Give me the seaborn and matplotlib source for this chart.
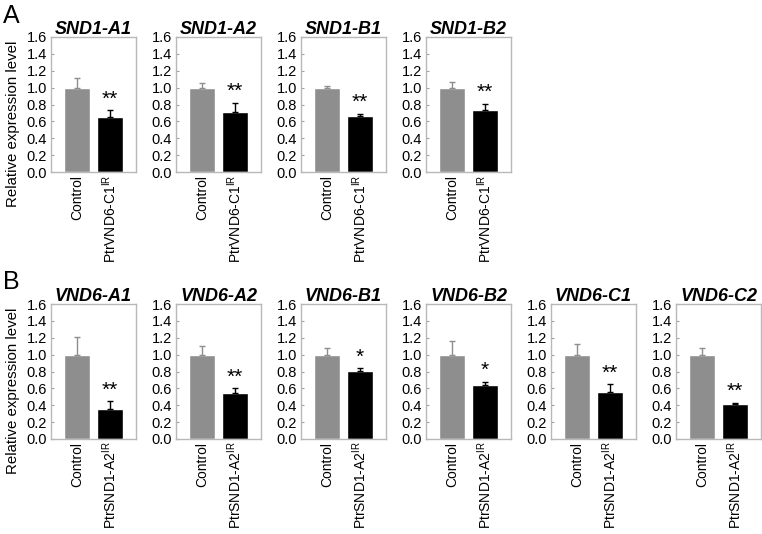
import numpy as np
import pandas as pd
import matplotlib
matplotlib.use("Agg")
import matplotlib.pyplot as plt
import seaborn as sns

# Panel A data
genes_a = ["SND1-A1", "SND1-A2", "SND1-B1", "SND1-B2"]
ctrl_a = [1.0, 1.0, 1.0, 1.0]
ctrl_err_a = [0.11, 0.05, 0.02, 0.07]
trt_a = [0.65, 0.71, 0.66, 0.74]
trt_err_a = [0.08, 0.11, 0.03, 0.07]
sig_a = ["**", "**", "**", "**"]
trt_label_a = r"PtrVND6-C1$^{\mathrm{IR}}$"

# Panel B data
genes_b = ["VND6-A1", "VND6-A2", "VND6-B1", "VND6-B2", "VND6-C1", "VND6-C2"]
ctrl_b = [1.0, 1.0, 1.0, 1.0, 1.0, 1.0]
ctrl_err_b = [0.21, 0.10, 0.08, 0.16, 0.13, 0.08]
trt_b = [0.36, 0.55, 0.81, 0.64, 0.56, 0.41]
trt_err_b = [0.09, 0.05, 0.03, 0.04, 0.09, 0.02]
sig_b = ["**", "**", "*", "*", "**", "**"]
trt_label_b = r"PtrSND1-A2$^{\mathrm{IR}}$"

yticks = [0.0, 0.2, 0.4, 0.6, 0.8, 1.0, 1.2, 1.4, 1.6]

sns.set_style("white")
plt.rcParams['font.family'] = ['Liberation Sans', 'DejaVu Sans']
plt.rcParams['mathtext.fontset'] = 'custom'
plt.rcParams['mathtext.rm'] = 'Liberation Sans'
plt.rcParams['mathtext.it'] = 'Liberation Sans:italic'
plt.rcParams['mathtext.bf'] = 'Liberation Sans:bold'
plt.rcParams['text.color'] = 'black'
plt.rcParams['axes.labelcolor'] = 'black'

fig = plt.figure(figsize=(7.62, 5.34), dpi=100)

W, H = 762, 534
ax_w = 85 / W
step = 125 / W
x0 = 51 / W


def draw_panel(ax, gene, c, ce, t, te, sig, trt_label, show_ylabel):
    df = pd.DataFrame({"group": ["Control", trt_label], "value": [c, t]})
    sns.barplot(data=df, x="group", y="value", hue="group",
                palette=["#8e8e8e", "#000000"], width=0.8,
                legend=False, ax=ax, errorbar=None)
    ax.errorbar([0], [c], yerr=[[0], [ce]], fmt="none", ecolor="#8e8e8e",
                elinewidth=1, capsize=2, capthick=1)
    ax.errorbar([1], [t], yerr=[[0], [te]], fmt="none", ecolor="#000000",
                elinewidth=1, capsize=2, capthick=1)
    ax.text(1, t + te + 0.02, sig, ha="center", va="bottom", fontsize=15)
    ax.set_ylim(0, 1.6)
    ax.set_xlim(-0.8, 1.8)
    ax.set_yticks(yticks)
    ax.set_yticklabels([f"{v:.1f}" for v in yticks])
    ax.tick_params(axis="y", length=2.5, width=0.8, direction="in",
                   color="#a0a0a0", labelcolor="black", left=True,
                   labelsize=10.5, pad=3)
    ax.tick_params(axis="x", length=0, labelsize=10, pad=2, rotation=90,
                   labelcolor="black")
    ax.set_xlabel("")
    if show_ylabel:
        ax.set_ylabel("Relative expression level", fontsize=10.8)
        ax.yaxis.set_label_coords(-0.36, 0.36)
    else:
        ax.set_ylabel("")
    ax.set_title(gene, fontsize=13, fontweight="bold", style="italic", pad=2)
    for s in ax.spines.values():
        s.set_color("#b8b8b8")
        s.set_linewidth(1)


bottom_a = 1 - 172 / H
height_a = (172 - 37) / H
for i, g in enumerate(genes_a):
    ax = fig.add_axes([x0 + i * step, bottom_a, ax_w, height_a])
    draw_panel(ax, g, ctrl_a[i], ctrl_err_a[i], trt_a[i], trt_err_a[i],
               sig_a[i], trt_label_a, i == 0)

bottom_b = 1 - 439 / H
height_b = (439 - 304) / H
for i, g in enumerate(genes_b):
    ax = fig.add_axes([x0 + i * step, bottom_b, ax_w, height_b])
    draw_panel(ax, g, ctrl_b[i], ctrl_err_b[i], trt_b[i], trt_err_b[i],
               sig_b[i], trt_label_b, i == 0)

fig.text(3 / W, 1 - 4 / H, "A", fontsize=18, va="top", ha="left")
fig.text(3 / W, 1 - 270 / H, "B", fontsize=18, va="top", ha="left")

fig.savefig("out.png", dpi=100)
